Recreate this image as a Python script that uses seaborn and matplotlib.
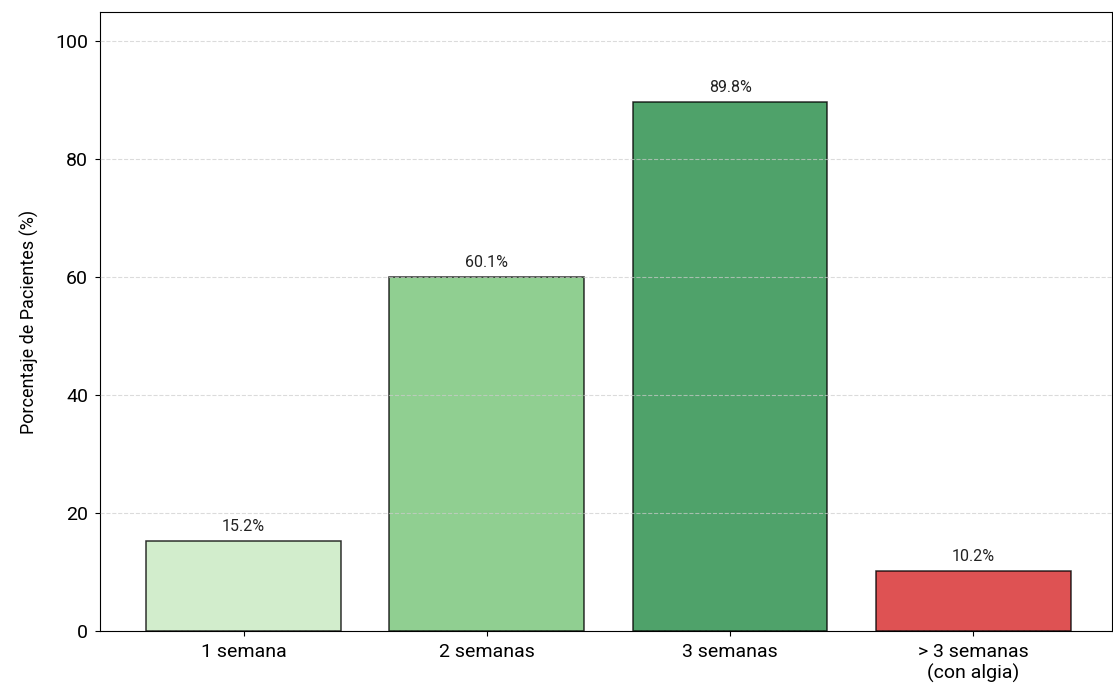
import seaborn as sns
import pandas as pd
import matplotlib.pyplot as plt

categorias = ['1 semana', '2 semanas', '3 semanas', '> 3 semanas\n(con algia)']
porcentajes = [15.2, 60.1, 89.8, 10.2]
colores = ['#c7e9c0', '#74c476', '#238b45', '#d62728']

df = pd.DataFrame({'categoria': categorias, 'pct': porcentajes})

plt.rcParams['font.family'] = ['Roboto', 'DejaVu Sans']

fig = plt.figure(figsize=(11.13, 6.93), dpi=100)
ax = fig.add_axes([100 / 1113, 62 / 693, 1012 / 1113, 619 / 693])

sns.barplot(data=df, x='categoria', y='pct', hue='categoria', palette=colores,
            legend=False, alpha=0.8, saturation=1, edgecolor='black', linewidth=1.1,
            width=0.8, ax=ax)

for i, v in enumerate(porcentajes):
    ax.text(i, v + 1.2, f'{v}%', ha='center', va='bottom', fontsize=11.5, color='#222222')

ax.set_ylim(0, 105)
ax.set_xlim(-0.59, 3.57)
ax.set_xlabel('')
ax.set_ylabel('Porcentaje de Pacientes (%)', fontsize=13, labelpad=12)
ax.tick_params(axis='both', labelsize=14, pad=5)
ax.yaxis.grid(True, linestyle='--', color='#cccccc', alpha=0.7)
ax.set_axisbelow(False)

plt.savefig('out.png', dpi=100)
